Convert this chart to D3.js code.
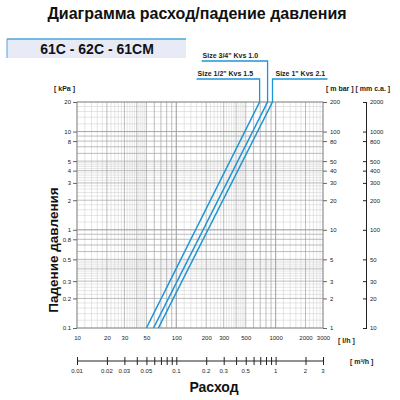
<!DOCTYPE html>
<html>
<head>
<meta charset="utf-8">
<script src="https://cdn.jsdelivr.net/npm/d3@7"></script>
<style>
  body { margin: 0; background: #fff; }
  text { font-family: "Liberation Sans", Arial, sans-serif; }
</style>
</head>
<body>
<div id="chart"></div>
<script>
// data
const seriesNames = ["Size 1/2\" Kvs 1.5", "Size 3/4\" Kvs 1.0", "Size 1\" Kvs 2.1"]
const flowAtMin = [50, 59, 66]      // l/h at 0.1 kPa
const flowAtMax = [690, 830, 930]   // l/h at 20 kPa
const dpLimits = [0.1, 20]          // kPa

const kpaTicks = [20, 10, 8, 5, 4, 3, 2, 1, 0.8, 0.5, 0.3, 0.2, 0.1]
const mbarTicks = [200, 100, 80, 50, 40, 30, 20, 10, 5, 3, 2, 1]
const mmTicks = [2000, 1000, 800, 500, 400, 300, 200, 100, 50, 30, 20, 10]
const lhTicks = [10, 20, 30, 50, 100, 200, 300, 500, 1000, 2000, 3000]
const m3hLabels = [0.01, 0.02, 0.03, 0.05, 0.1, 0.2, 0.3, 0.5, 1, 2, 3]
const m3hTicks = [0.01, 0.02, 0.03, 0.04, 0.05, 0.06, 0.07, 0.08, 0.09, 0.1,
  0.2, 0.3, 0.4, 0.5, 0.6, 0.7, 0.8, 0.9, 1, 2, 3]

const BLUE = "#1f95d6"
const PLOT = { LEFT: 77, RIGHT: 323, TOP: 102, BOTTOM: 328 }

const svg = d3.select("#chart").append("svg")
  .attr("width", 400)
  .attr("height", 400)

// Scales
const x = d3.scaleLog().domain([10, 3000]).range([PLOT.LEFT, PLOT.RIGHT])
const y = d3.scaleLog().domain([0.1, 20]).range([PLOT.BOTTOM, PLOT.TOP])
const xm3 = d3.scaleLog().domain([0.01, 3]).range([PLOT.LEFT, PLOT.RIGHT])
const yMbar = d3.scaleLog().domain([1, 200]).range([PLOT.BOTTOM, PLOT.TOP])
const yMm = d3.scaleLog().domain([10, 2000]).range([PLOT.BOTTOM, PLOT.TOP])

// Title
svg.append("text")
  .attr("x", 197).attr("y", 19)
  .attr("text-anchor", "middle")
  .attr("font-size", "16px").attr("font-weight", "bold")
  .attr("fill", "#111")
  .text("Диаграмма расход/падение давления")

// model box
svg.append("rect").attr("x", 7).attr("y", 39).attr("width", 179).attr("height", 19)
  .attr("fill", "#e8ebf6")
svg.append("line").attr("x1", 7).attr("x2", 186).attr("y1", 39).attr("y2", 39)
  .attr("stroke", "#4aa6dc").attr("stroke-width", 1.5)
svg.append("line").attr("x1", 7).attr("x2", 7).attr("y1", 39).attr("y2", 58)
  .attr("stroke", "#4aa6dc").attr("stroke-width", 1)
svg.append("text")
  .attr("x", 97).attr("y", 54)
  .attr("text-anchor", "middle")
  .attr("font-size", "14px").attr("font-weight", "bold")
  .attr("fill", "#111")
  .text("61C - 62C - 61CM")

// Grid
function gridValues(lo, hi) {
  const minor = [], major = []
  for (let dec = lo; dec < hi * 1.0001; dec *= 10) {
    for (let m = 1; m < 10; m += 0.2) {
      const v = +(dec * m).toPrecision(6)
      if (v < lo * 0.999 || v > hi * 1.001) continue
      if (Math.abs(m - Math.round(m)) < 1e-6) major.push(v)
      else if (m < 5 || Math.abs(m * 2 - Math.round(m * 2)) < 1e-6) minor.push(v)
    }
  }
  return { minor, major }
}
const gx = gridValues(10, 3000)
const gy = gridValues(0.1, 20)
const grid = svg.append("g")
grid.selectAll(".vminor").data(gx.minor).enter().append("line")
  .attr("x1", d => x(d)).attr("x2", d => x(d))
  .attr("y1", PLOT.TOP).attr("y2", PLOT.BOTTOM)
  .attr("stroke", "#d4d4d4").attr("stroke-width", 0.6)
grid.selectAll(".hminor").data(gy.minor).enter().append("line")
  .attr("y1", d => y(d)).attr("y2", d => y(d))
  .attr("x1", PLOT.LEFT).attr("x2", PLOT.RIGHT)
  .attr("stroke", "#d4d4d4").attr("stroke-width", 0.6)
grid.selectAll(".vmajor").data(gx.major).enter().append("line")
  .attr("x1", d => x(d)).attr("x2", d => x(d))
  .attr("y1", PLOT.TOP).attr("y2", PLOT.BOTTOM)
  .attr("stroke", "#a0a0a0").attr("stroke-width", 0.7)
grid.selectAll(".hmajor").data(gy.major).enter().append("line")
  .attr("y1", d => y(d)).attr("y2", d => y(d))
  .attr("x1", PLOT.LEFT).attr("x2", PLOT.RIGHT)
  .attr("stroke", "#a0a0a0").attr("stroke-width", 0.7)
grid.append("rect")
  .attr("x", PLOT.LEFT).attr("y", PLOT.TOP)
  .attr("width", PLOT.RIGHT - PLOT.LEFT).attr("height", PLOT.BOTTOM - PLOT.TOP)
  .attr("fill", "none").attr("stroke", "#888").attr("stroke-width", 0.8)

const fmt = d => String(d)

// Left axis (kPa)
const yAxisL = svg.append("g")
  .attr("transform", `translate(${PLOT.LEFT}, 0)`)
  .call(d3.axisLeft(y).tickValues(kpaTicks).tickFormat(fmt).tickSize(4).tickPadding(2))
yAxisL.select(".domain").remove()
yAxisL.selectAll("line").attr("stroke", "#666")
yAxisL.selectAll("text").attr("font-size", "6px").attr("fill", "#222")

// Right axis (mbar)
const yAxisR = svg.append("g")
  .attr("transform", `translate(${PLOT.RIGHT}, 0)`)
  .call(d3.axisRight(yMbar).tickValues(mbarTicks).tickFormat(fmt).tickSize(4).tickPadding(3))
yAxisR.select(".domain").remove()
yAxisR.selectAll("line").attr("stroke", "#666")
yAxisR.selectAll("text").attr("font-size", "6px").attr("fill", "#222")

// mm c.a. axis
const yAxisMm = svg.append("g")
  .attr("transform", "translate(366, 0)")
  .call(d3.axisRight(yMm).tickValues(mmTicks).tickFormat(fmt).tickSize(0).tickPadding(4).tickSizeOuter(0))
yAxisMm.select(".domain").attr("stroke", "#222").attr("stroke-width", 1)
yAxisMm.selectAll(".tick line").attr("x1", -3).attr("x2", 1).attr("stroke", "#222")
yAxisMm.selectAll("text").attr("font-size", "6px").attr("fill", "#222")

// Bottom axis (l/h)
const xAxis = svg.append("g")
  .attr("transform", `translate(0, ${PLOT.BOTTOM})`)
  .call(d3.axisBottom(x).tickValues(lhTicks).tickFormat(fmt).tickSize(0).tickPadding(8))
xAxis.select(".domain").remove()
xAxis.selectAll("text").attr("font-size", "6px").attr("fill", "#222")

// m3/h axis
const xAxisM3 = svg.append("g")
  .attr("transform", "translate(0, 361)")
  .call(d3.axisBottom(xm3).tickValues(m3hTicks).tickSize(0).tickFormat(""))
xAxisM3.select(".domain").attr("stroke", "#222").attr("d", `M${PLOT.LEFT},0H${PLOT.RIGHT}`)
xAxisM3.selectAll(".tick line").attr("y1", -4).attr("y2", 4).attr("stroke", "#222")
svg.append("g")
  .attr("transform", "translate(0, 361)")
  .selectAll("text").data(m3hLabels).enter().append("text")
  .attr("x", d => xm3(d)).attr("y", 12)
  .attr("text-anchor", "middle")
  .attr("font-size", "6px").attr("fill", "#222")
  .text(fmt)

// Unit labels
const unit = (tx, ty, t, anchor) => svg.append("text")
  .attr("x", tx).attr("y", ty).attr("text-anchor", anchor || "start")
  .attr("font-size", "7px").attr("font-weight", "bold").attr("fill", "#222")
  .text(t)
unit(54, 91, "[ kPa ]")
unit(326, 91, "[ m bar ] [ mm c.a. ]")
unit(338, 343, "[ l/h ]")
unit(350, 364, "[ m³/h ]")

// Axis titles
svg.append("text")
  .attr("x", 214).attr("y", 392)
  .attr("text-anchor", "middle")
  .attr("font-size", "14px").attr("font-weight", "bold").attr("fill", "#111")
  .text("Расход")
svg.append("text")
  .attr("transform", "translate(58, 250) rotate(-90)")
  .attr("text-anchor", "middle")
  .attr("font-size", "13.5px").attr("font-weight", "bold").attr("fill", "#111")
  .text("Падение давления")

// Curves
const curves = seriesNames.map((name, i) => ({
  name,
  points: [[flowAtMin[i], dpLimits[0]], [flowAtMax[i], dpLimits[1]]]
}))
const line = d3.line().x(d => x(d[0])).y(d => y(d[1]))
svg.append("g").selectAll("path").data(curves).enter().append("path")
  .attr("d", d => line(d.points))
  .attr("fill", "none").attr("stroke", BLUE).attr("stroke-width", 1.6)

// Leaders and labels
const labelY = [79, 61, 79]
const labelSide = ["left", "left", "right"]
const labelLen = [63, 66, 55]
curves.forEach((c, i) => {
  const topX = x(flowAtMax[i])
  const ly = labelY[i]
  const endX = labelSide[i] === "left" ? topX - labelLen[i] : topX + labelLen[i]
  svg.append("path")
    .attr("d", `M${topX},${PLOT.TOP}V${ly}H${endX}`)
    .attr("fill", "none").attr("stroke", BLUE).attr("stroke-width", 1.3)
  svg.append("text")
    .attr("x", labelSide[i] === "left" ? endX + 1 : topX + 3)
    .attr("y", ly - 3)
    .attr("font-size", "7px").attr("font-weight", "bold").attr("fill", "#222")
    .text(c.name)
})
</script>
</body>
</html>
